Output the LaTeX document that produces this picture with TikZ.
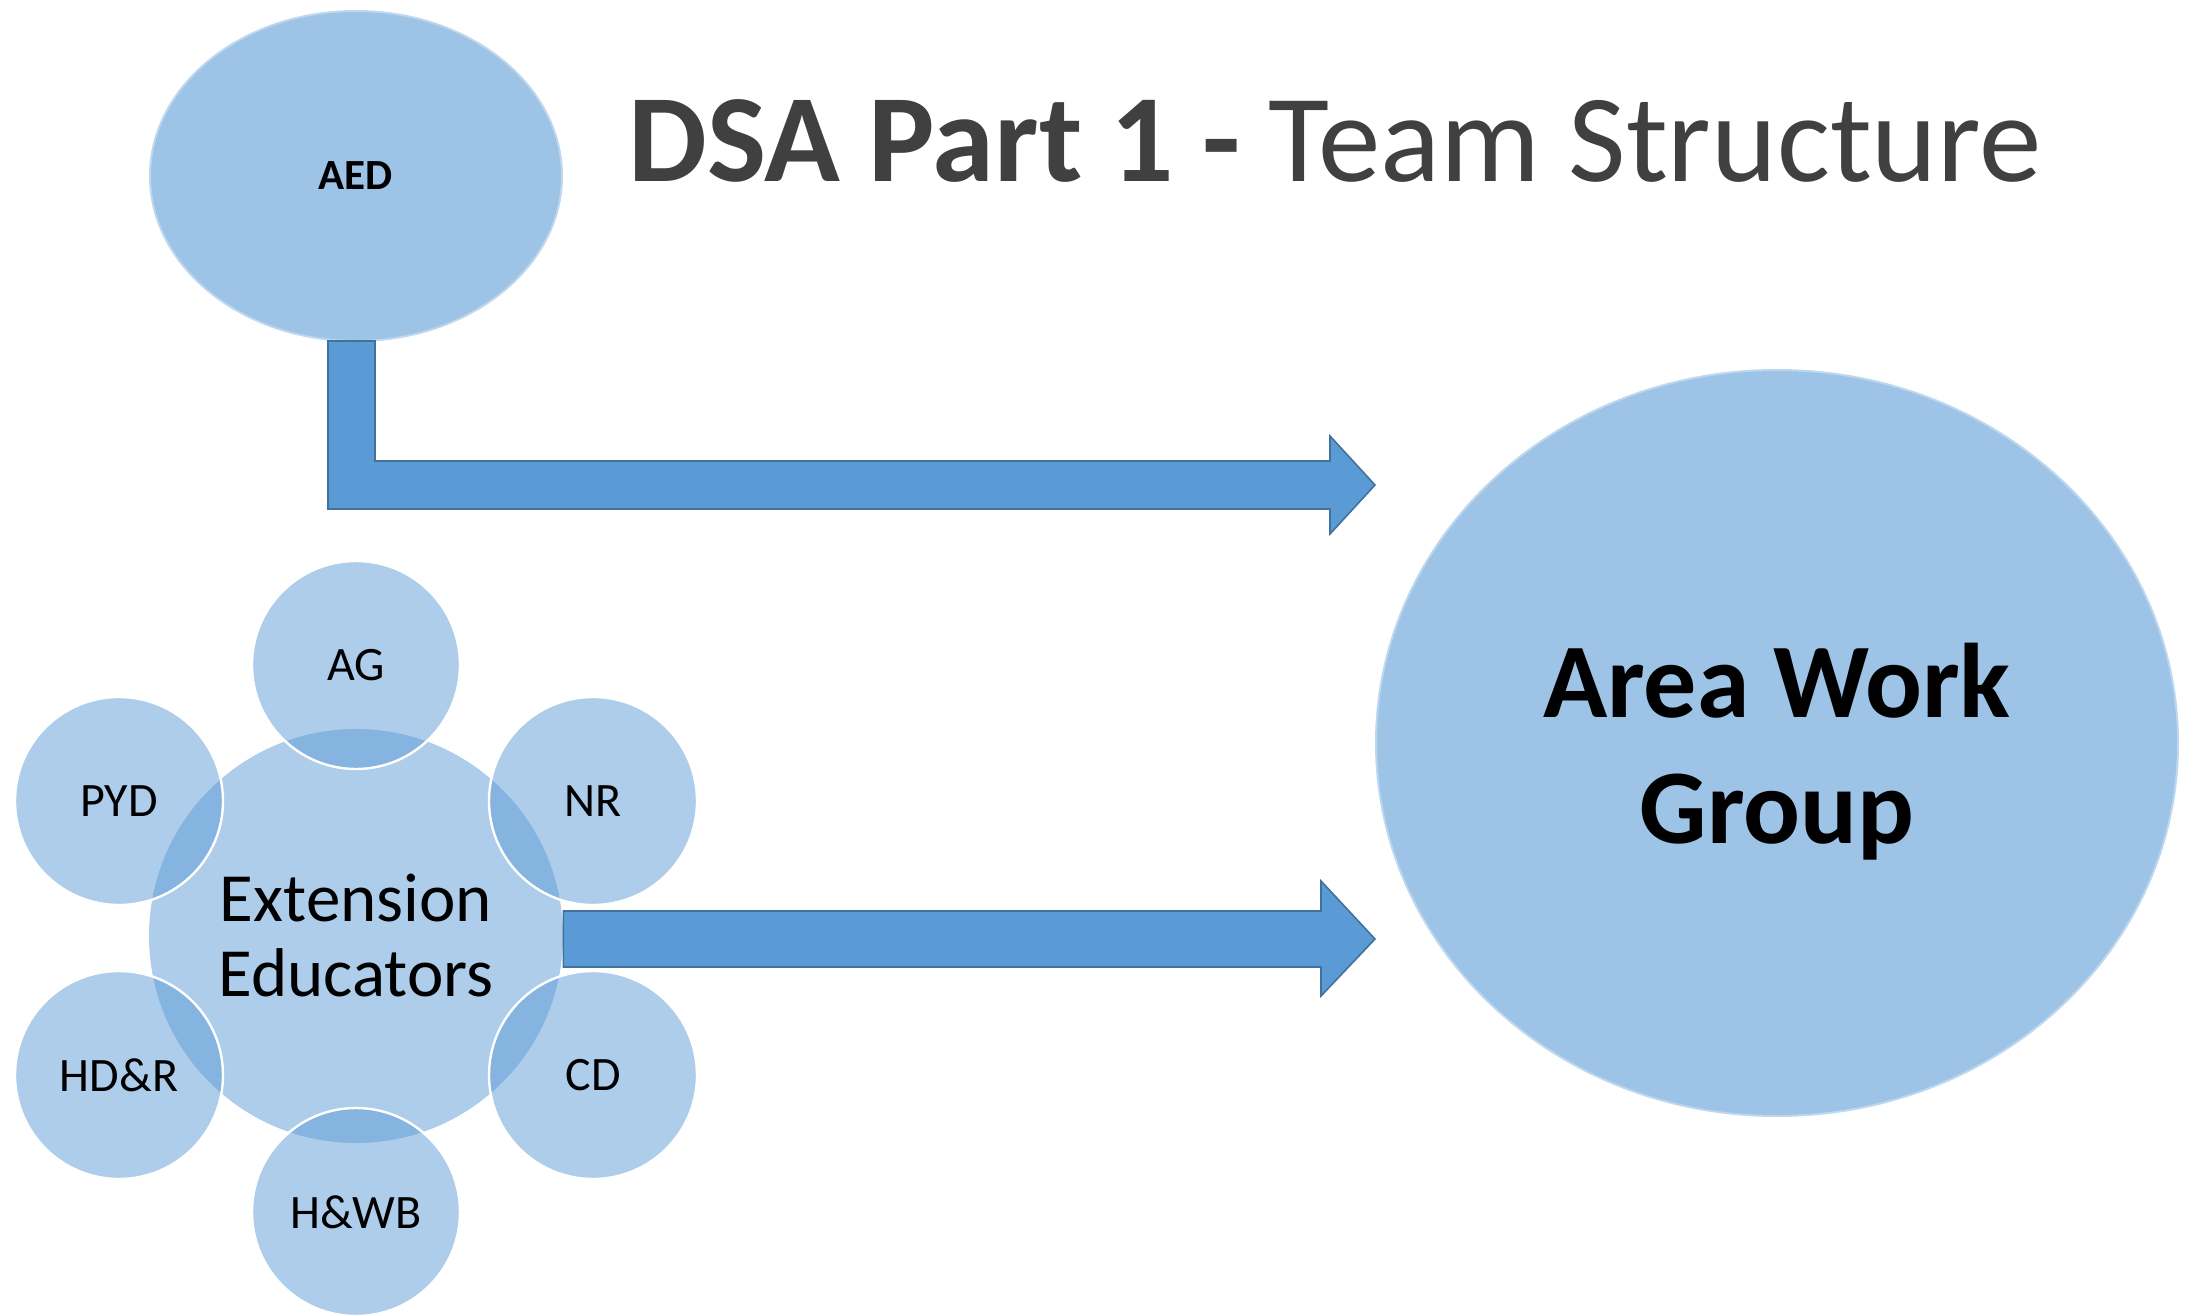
\documentclass[tikz,border=0pt]{standalone}
\usepackage{fontspec}
\setmainfont{Carlito}
\usetikzlibrary{shapes.geometric}
\definecolor{ellfill}{HTML}{9DC3E6}
\definecolor{ellline}{HTML}{BDD7EE}
\definecolor{accent}{HTML}{5B9BD5}
\definecolor{arrline}{HTML}{41719C}
\definecolor{titlegray}{HTML}{404040}
\tikzset{
  bigell/.style={ellipse, fill=ellfill, draw=ellline, line width=1pt, inner sep=0pt},
  petal/.style={circle, fill=accent, fill opacity=0.5, text opacity=1, draw=white, line width=1.2pt, inner sep=0pt, minimum size=104pt, font=\fontsize{24}{28}\selectfont},
  hub/.style={circle, fill=accent, fill opacity=0.5, text opacity=1, inner sep=0pt, minimum size=207pt, align=center, font=\fontsize{34.5}{37.5}\selectfont},
  blockarrow/.style={fill=accent, draw=arrline, line width=0.8pt, line join=miter}
}
\begin{document}
\begin{tikzpicture}[x=0.5pt,y=-0.5pt]
\useasboundingbox (0,0) rectangle (2197,1316);
% AED
\node[bigell, minimum width=206pt, minimum height=165pt, font=\bfseries\fontsize{21.5}{25}\selectfont] (aed) at (356,176) {AED};
% Title
\node[anchor=base west, inner sep=0pt, text=titlegray, font=\fontsize{62.5}{75}\selectfont] (title) at (628,182) {\textbf{DSA Part 1 -} Team Structure};
% Area Work Group
\node[bigell, minimum width=401pt, minimum height=373pt, align=center, font=\bfseries\fontsize{53}{63}\selectfont] (awg) at (1777,743) {};
\node[align=center, font=\bfseries\fontsize{53}{63}\selectfont] (awgtext) at (1777,752) {Area Work\\Group};
% bent arrow
\coordinate (b1) at (328,341);
\coordinate (b2) at (375,341);
\draw[blockarrow] (b1) -- (b2) -- (375,461) -- (1330,461) -- (1330,436) -- (awg.west |- 0,485) -- (1330,534) -- (1330,509) -- (328,509) -- cycle;
% Extension Educators hub
\node[hub] (ee) at (356,936) {Extension\\Educators};
\node[petal] (ag) at (356,665) {AG};
\node[petal] (pyd) at (119,801) {PYD};
\node[petal] (nr) at (593,801) {NR};
\node[petal] (hdr) at (119,1075) {HD\&R};
\node[petal] (cd) at (593,1075) {CD};
\node[petal] (hwb) at (356,1212) {H\&WB};
% second arrow
\draw[blockarrow] (ee.east |- 0,911) -- (1321,911) -- (1321,881) -- (awg.west |- 0,939) -- (1321,996) -- (1321,967) -- (ee.east |- 0,967) -- cycle;
\end{tikzpicture}
\end{document}
